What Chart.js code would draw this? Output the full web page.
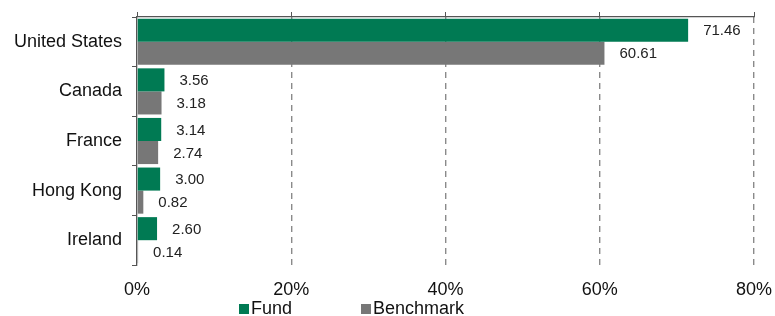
<!DOCTYPE html>
<html>
<head>
<meta charset="utf-8">
<script src="https://cdn.jsdelivr.net/npm/chart.js@4"></script>
<style>
  body { margin: 0; background: #fff; }
  #wrap { width: 775px; height: 316px; position: relative; }
</style>
</head>
<body>
<div id="wrap"><canvas id="regionChart"></canvas></div>
<script>
// country allocation, fund vs benchmark (%)
const countries = ["United States", "Canada", "France", "Hong Kong", "Ireland"];
const fundValues = [71.46, 3.56, 3.14, 3.00, 2.60];
const benchmarkValues = [60.61, 3.18, 2.74, 0.82, 0.14];
const xTicks = [0, 20, 40, 60, 80];

const FONT = "'Liberation Sans', Arial, sans-serif";

// labels at the end of each bar
const barLabels = {
  id: "barLabels",
  afterDatasetsDraw(chart) {
    const ctx = chart.ctx;
    ctx.save();
    ctx.font = "15px " + FONT;
    ctx.fillStyle = "#222";
    ctx.textAlign = "left";
    ctx.textBaseline = "middle";
    chart.data.datasets.forEach((ds, i) => {
      chart.getDatasetMeta(i).data.forEach((bar, j) => {
        ctx.fillText(ds.data[j].toFixed(2), bar.x + 15, bar.y + 1);
      });
    });
    ctx.restore();
  }
};

// legend under the axis, squares like in the original
const bottomLegend = {
  id: "bottomLegend",
  afterDraw(chart) {
    const ctx = chart.ctx;
    const spots = [239, 361];
    ctx.save();
    ctx.font = "18px " + FONT;
    ctx.textBaseline = "middle";
    chart.data.datasets.forEach((ds, i) => {
      ctx.fillStyle = ds.backgroundColor;
      ctx.fillRect(spots[i], 304, 10, 10);
      ctx.fillStyle = "#111";
      ctx.fillText(ds.label, spots[i] + 12, 309);
    });
    ctx.restore();
  }
};

function fixX(h) {
  return s => { s.height = h; s.paddingLeft = 0; s.paddingRight = 0; };
}

new Chart(document.getElementById("regionChart"), {
  type: "bar",
  data: {
    labels: countries,
    datasets: [
      { label: "Fund", data: fundValues, backgroundColor: "#007A53" },
      { label: "Benchmark", data: benchmarkValues, backgroundColor: "#777777" }
    ]
  },
  options: {
    indexAxis: "y",
    responsive: true,
    maintainAspectRatio: false,
    animation: false,
    layout: { padding: { top: 0, right: 21, bottom: 0, left: 0 } },
    datasets: { bar: { categoryPercentage: 0.93, barPercentage: 1 } },
    plugins: { legend: { display: false }, tooltip: { enabled: false } },
    scales: {
      x: {
        position: "bottom",
        min: 0,
        max: 80,
        afterBuildTicks: s => { s.ticks = xTicks.map(v => ({ value: v })); },
        afterFit: fixX(51),
        ticks: {
          callback: v => v + "%",
          font: { family: FONT, size: 18 },
          color: "#111",
          padding: 14,
          maxRotation: 0
        },
        grid: {
          color: c => c.tick && c.tick.value === 0 ? "rgba(0,0,0,0)" : "#8a8a8a",
          lineWidth: 1.4,
          drawTicks: false
        },
        border: { display: false, dash: [6, 5] }
      },
      x2: {
        position: "top",
        min: 0,
        max: 80,
        afterBuildTicks: s => { s.ticks = xTicks.map(v => ({ value: v })); },
        afterFit: fixX(17),
        ticks: { display: false },
        grid: { drawOnChartArea: false, drawTicks: true, tickLength: 5, color: "#555" },
        border: { display: true, color: "#555", width: 1.3 }
      },
      y: {
        afterFit: s => { s.width = 137; s.paddingTop = 0; s.paddingBottom = 0; },
        ticks: {
          font: { family: FONT, size: 18 },
          color: "#111",
          padding: 10
        },
        grid: { drawOnChartArea: false, drawTicks: true, tickLength: 5, color: "#555", offset: true },
        border: { display: true, color: "#555", width: 1.3 }
      }
    }
  },
  plugins: [barLabels, bottomLegend]
});
</script>
</body>
</html>
